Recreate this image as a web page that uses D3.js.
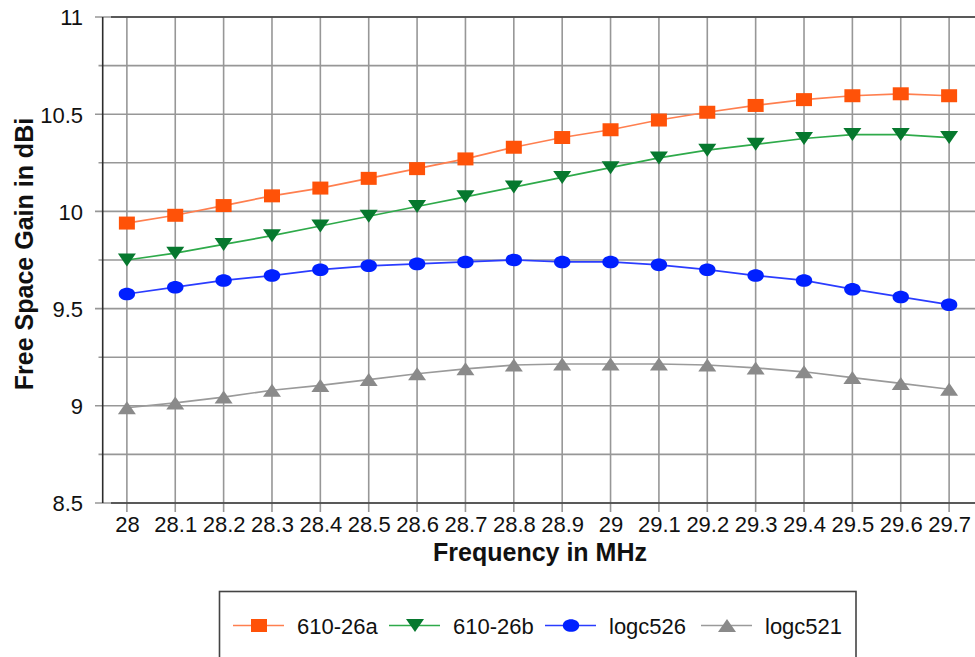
<!DOCTYPE html>
<html><head><meta charset="utf-8">
<script src="https://cdn.jsdelivr.net/npm/d3@7"></script>
<style>
body{margin:0;background:#fff}
svg{display:block}
text{font-family:"Liberation Sans",Arial,Helvetica,sans-serif;fill:#111}
</style>
</head><body>
<svg id="chart" width="975" height="657"></svg>
<script>
// ---- data ----
const frequencies = ["28","28.1","28.2","28.3","28.4","28.5","28.6","28.7","28.8","28.9","29","29.1","29.2","29.3","29.4","29.5","29.6","29.7"];
const gain610_26a = [9.94,9.98,10.03,10.08,10.12,10.17,10.22,10.27,10.33,10.38,10.42,10.47,10.51,10.545,10.575,10.595,10.605,10.595];
const gain610_26b = [9.75,9.785,9.83,9.875,9.925,9.975,10.025,10.075,10.125,10.175,10.225,10.275,10.315,10.345,10.375,10.395,10.395,10.38];
const gainLogc526 = [9.575,9.61,9.645,9.67,9.70,9.72,9.73,9.74,9.75,9.74,9.74,9.725,9.70,9.67,9.645,9.60,9.56,9.52];
const gainLogc521 = [8.99,9.015,9.045,9.08,9.105,9.135,9.165,9.19,9.21,9.215,9.215,9.215,9.21,9.195,9.175,9.145,9.115,9.085];
const seriesNames = ["610-26a","610-26b","logc526","logc521"];
const yTickValues = [8.5,9,9.5,10,10.5,11];
const yGridValues = [8.5,8.75,9,9.25,9.5,9.75,10,10.25,10.5,10.75,11];
const xTitle = "Frequency in MHz";
const yTitle = "Free Space Gain in dBi";

// ---- styles ----
const styles = [
  {line:"#ff7f4f", fill:"#ff5208", shape:"square"},
  {line:"#2eaa4a", fill:"#06782e", shape:"triDown"},
  {line:"#2a3cff", fill:"#0020ff", shape:"ellipse"},
  {line:"#9a9a9a", fill:"#8a8a8a", shape:"triUp"}
];
const seriesValues = [gain610_26a, gain610_26b, gainLogc526, gainLogc521];
const FONT = '"Liberation Sans",Arial,sans-serif';

const svg = d3.select("#chart");
const L = 102.7, T = 17, R = 973.3, B = 503, RE = 975;

const x = d3.scalePoint().domain(frequencies).range([L, R]).padding(0.5);
const y = d3.scaleLinear().domain([8.5, 11]).range([B, T]);

function markerPath(shape){
  const w = 16, h = 13;
  if (shape === "square") return `M${-w/2},${-h/2}h${w}v${h}h${-w}Z`;
  if (shape === "triDown") return `M${-9},${-6.5}L${9},${-6.5}L0,${6.5}Z`;
  if (shape === "triUp") return `M${-9},${6.5}L${9},${6.5}L0,${-6.5}Z`;
  const rx = 8.2, ry = 6.3;
  return `M${-rx},0C${-rx},${-ry*1.33} ${rx},${-ry*1.33} ${rx},0C${rx},${ry*1.33} ${-rx},${ry*1.33} ${-rx},0Z`;
}

// ---- grid ----
const grid = svg.append("g");
grid.selectAll("line.h").data(yGridValues).join("line")
  .attr("x1", d => yTickValues.includes(d) ? 95 : 98.5)
  .attr("x2", RE)
  .attr("y1", d => y(d)).attr("y2", d => y(d))
  .attr("stroke", "#979797").attr("stroke-width", 1.6);
grid.selectAll("line.v").data(frequencies).join("line")
  .attr("x1", d => x(d)).attr("x2", d => x(d))
  .attr("y1", T).attr("y2", B + 9)
  .attr("stroke", "#979797").attr("stroke-width", 1.6);

// ---- frame ----
svg.append("line").attr("x1", 111).attr("x2", RE).attr("y1", y(11)).attr("y2", y(11))
  .attr("stroke", "#3c3c3c").attr("stroke-width", 1.6);
svg.append("line").attr("x1", 111).attr("x2", RE).attr("y1", y(8.5)).attr("y2", y(8.5))
  .attr("stroke", "#3c3c3c").attr("stroke-width", 1.6);
svg.append("line").attr("x1", L).attr("x2", L).attr("y1", T).attr("y2", B)
  .attr("stroke", "#2c2c2c").attr("stroke-width", 1.6);

// ---- axes labels via d3 axes ----
const yAxis = svg.append("g").attr("transform", "translate(83,0)")
  .call(d3.axisLeft(y).tickValues(yTickValues).tickSize(0).tickPadding(0).tickFormat(d3.format("")));
yAxis.select(".domain").remove();
yAxis.selectAll("text").attr("font-size", 22).attr("fill", "#111")
  .style("font-family", FONT).attr("dy", "0.36em").attr("x", 0);

const xAxis = svg.append("g").attr("transform", `translate(0,${B})`)
  .call(d3.axisBottom(x).tickSize(0).tickPadding(0));
xAxis.select(".domain").remove();
xAxis.selectAll("text").attr("font-size", 22).attr("fill", "#111")
  .style("font-family", FONT).attr("y", 28.5).attr("dy", 0);

// ---- titles ----
svg.append("text").attr("x", 540).attr("y", 561).attr("text-anchor", "middle")
  .attr("font-size", 25).attr("font-weight", "bold").text(xTitle);
svg.append("text").attr("transform", "translate(33,254) rotate(-90)").attr("text-anchor", "middle")
  .attr("font-size", 25).attr("font-weight", "bold").text(yTitle);

// ---- series ----
seriesValues.forEach((vals, i) => {
  const st = styles[i];
  const pts = frequencies.map((f, j) => [x(f), y(vals[j])]);
  svg.append("path").attr("d", d3.line()(pts)).attr("fill", "none")
    .attr("stroke", st.line).attr("stroke-width", 1.7);
  svg.append("g").selectAll("path").data(pts).join("path")
    .attr("transform", d => `translate(${d[0]},${d[1]})`)
    .attr("d", markerPath(st.shape)).attr("fill", st.fill);
});

// ---- legend ----
const lg = svg.append("g");
lg.append("rect").attr("x", 219.5).attr("y", 591.5).attr("width", 636.5).attr("height", 90)
  .attr("fill", "#fff").attr("stroke", "#444").attr("stroke-width", 1.6);
seriesNames.forEach((name, i) => {
  const sx = 233 + i * 156, sy = 625.5, st = styles[i];
  lg.append("line").attr("x1", sx).attr("x2", sx + 51).attr("y1", sy).attr("y2", sy)
    .attr("stroke", st.line).attr("stroke-width", 1.7);
  lg.append("path").attr("transform", `translate(${sx + 26},${sy})`).attr("d", markerPath(st.shape)).attr("fill", st.fill);
  lg.append("text").attr("x", sx + 64).attr("y", sy + 8).attr("font-size", 22).text(name);
});
</script>
</body></html>
